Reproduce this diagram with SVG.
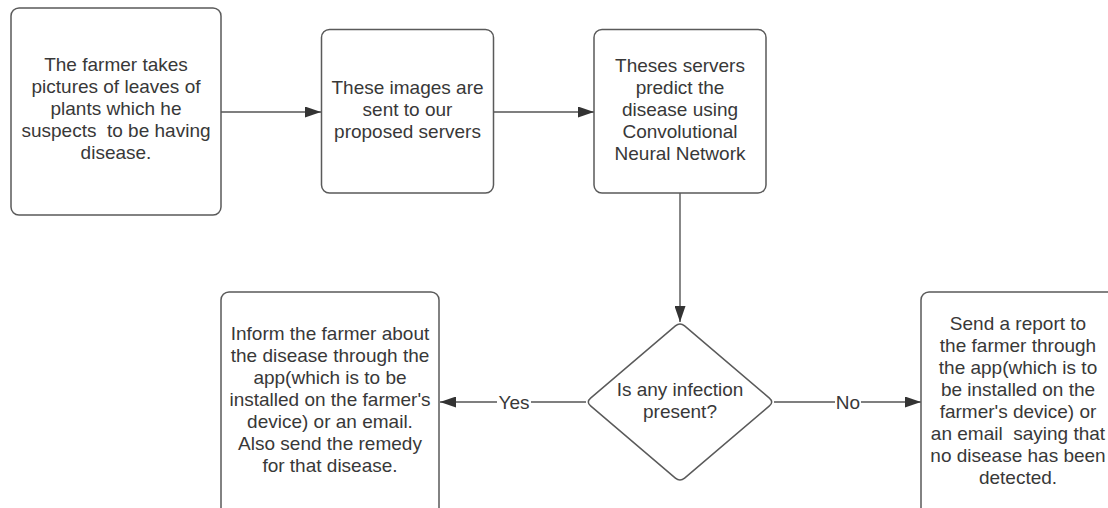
<svg xmlns="http://www.w3.org/2000/svg" width="1108" height="508" viewBox="0 0 1108 508">
<defs>
<marker id="arrow" markerUnits="userSpaceOnUse" markerWidth="16" markerHeight="11" refX="16" refY="5.5" orient="auto">
<path d="M0,0 L16,5.5 L0,11 Z" fill="#333"/>
</marker>
<style>
.box{fill:#fff;stroke:#5a5a5a;stroke-width:1.5}
.t{font-family:"Liberation Sans",Arial,sans-serif;font-size:19px;fill:#383838;text-anchor:middle}
.c{fill:none;stroke:#555;stroke-width:1.4}
.lbl{fill:#fff}
</style>
</defs>
<rect width="1108" height="508" fill="#fff"/>
<g id="connectors">
<line class="c" x1="221" y1="112" x2="321" y2="112" marker-end="url(#arrow)"/>
<line class="c" x1="493" y1="112" x2="594" y2="112" marker-end="url(#arrow)"/>
<line class="c" x1="680" y1="193" x2="680" y2="322" marker-end="url(#arrow)"/>
<line class="c" x1="586" y1="402" x2="440" y2="402" marker-end="url(#arrow)"/>
<line class="c" x1="774" y1="402" x2="921" y2="402" marker-end="url(#arrow)"/>
<rect class="lbl" x="497" y="392" width="34" height="20"/>
<text class="t" x="514" y="408.5">Yes</text>
<rect class="lbl" x="835" y="392" width="26" height="20"/>
<text class="t" x="848" y="408.5">No</text>
</g>
<g id="n1">
<rect class="box" x="11" y="8" width="210" height="207" rx="8"/>
<text class="t" x="116" y="71">The farmer takes</text>
<text class="t" x="116" y="93">pictures of leaves of</text>
<text class="t" x="116" y="115">plants which he</text>
<text class="t" x="116" y="137" xml:space="preserve">suspects  to be having</text>
<text class="t" x="116" y="159">disease.</text>
</g>
<g id="n2">
<rect class="box" x="321.5" y="29.5" width="172" height="163.5" rx="8"/>
<text class="t" x="407.5" y="94">These images are</text>
<text class="t" x="407.5" y="116">sent to our</text>
<text class="t" x="407.5" y="138">proposed servers</text>
</g>
<g id="n3">
<rect class="box" x="594" y="29.5" width="172" height="163.5" rx="8"/>
<text class="t" x="680" y="71.5">Theses servers</text>
<text class="t" x="680" y="93.5">predict the</text>
<text class="t" x="680" y="115.5">disease using</text>
<text class="t" x="680" y="137.5">Convolutional</text>
<text class="t" x="680" y="159.5">Neural Network</text>
</g>
<g id="n4">
<path class="box" d="M684.6,325.9 L769.4,398.1 Q774,402 769.4,405.9 L684.6,478.1 Q680,482 675.4,478.1 L590.6,405.9 Q586,402 590.6,398.1 L675.4,325.9 Q680,322 684.6,325.9 Z"/>
<text class="t" x="680" y="396">Is any infection</text>
<text class="t" x="680" y="417.5">present?</text>
</g>
<g id="n5">
<rect class="box" x="221" y="292" width="218" height="225" rx="8"/>
<text class="t" x="330" y="340">Inform the farmer about</text>
<text class="t" x="330" y="362">the disease through the</text>
<text class="t" x="330" y="384">app(which is to be</text>
<text class="t" x="330" y="406">installed on the farmer's</text>
<text class="t" x="330" y="428">device) or an email.</text>
<text class="t" x="330" y="450">Also send the remedy</text>
<text class="t" x="330" y="472">for that disease.</text>
</g>
<g id="n6">
<rect class="box" x="921" y="292" width="218" height="225" rx="8"/>
<text class="t" x="1018" y="329.5">Send a report to</text>
<text class="t" x="1018" y="351.5">the farmer through</text>
<text class="t" x="1018" y="373.5">the app(which is to</text>
<text class="t" x="1018" y="395.5">be installed on the</text>
<text class="t" x="1018" y="417.5">farmer's device) or</text>
<text class="t" x="1018" y="439.5" xml:space="preserve">an email  saying that</text>
<text class="t" x="1018" y="461.5">no disease has been</text>
<text class="t" x="1018" y="483.5">detected.</text>
</g>
</svg>
